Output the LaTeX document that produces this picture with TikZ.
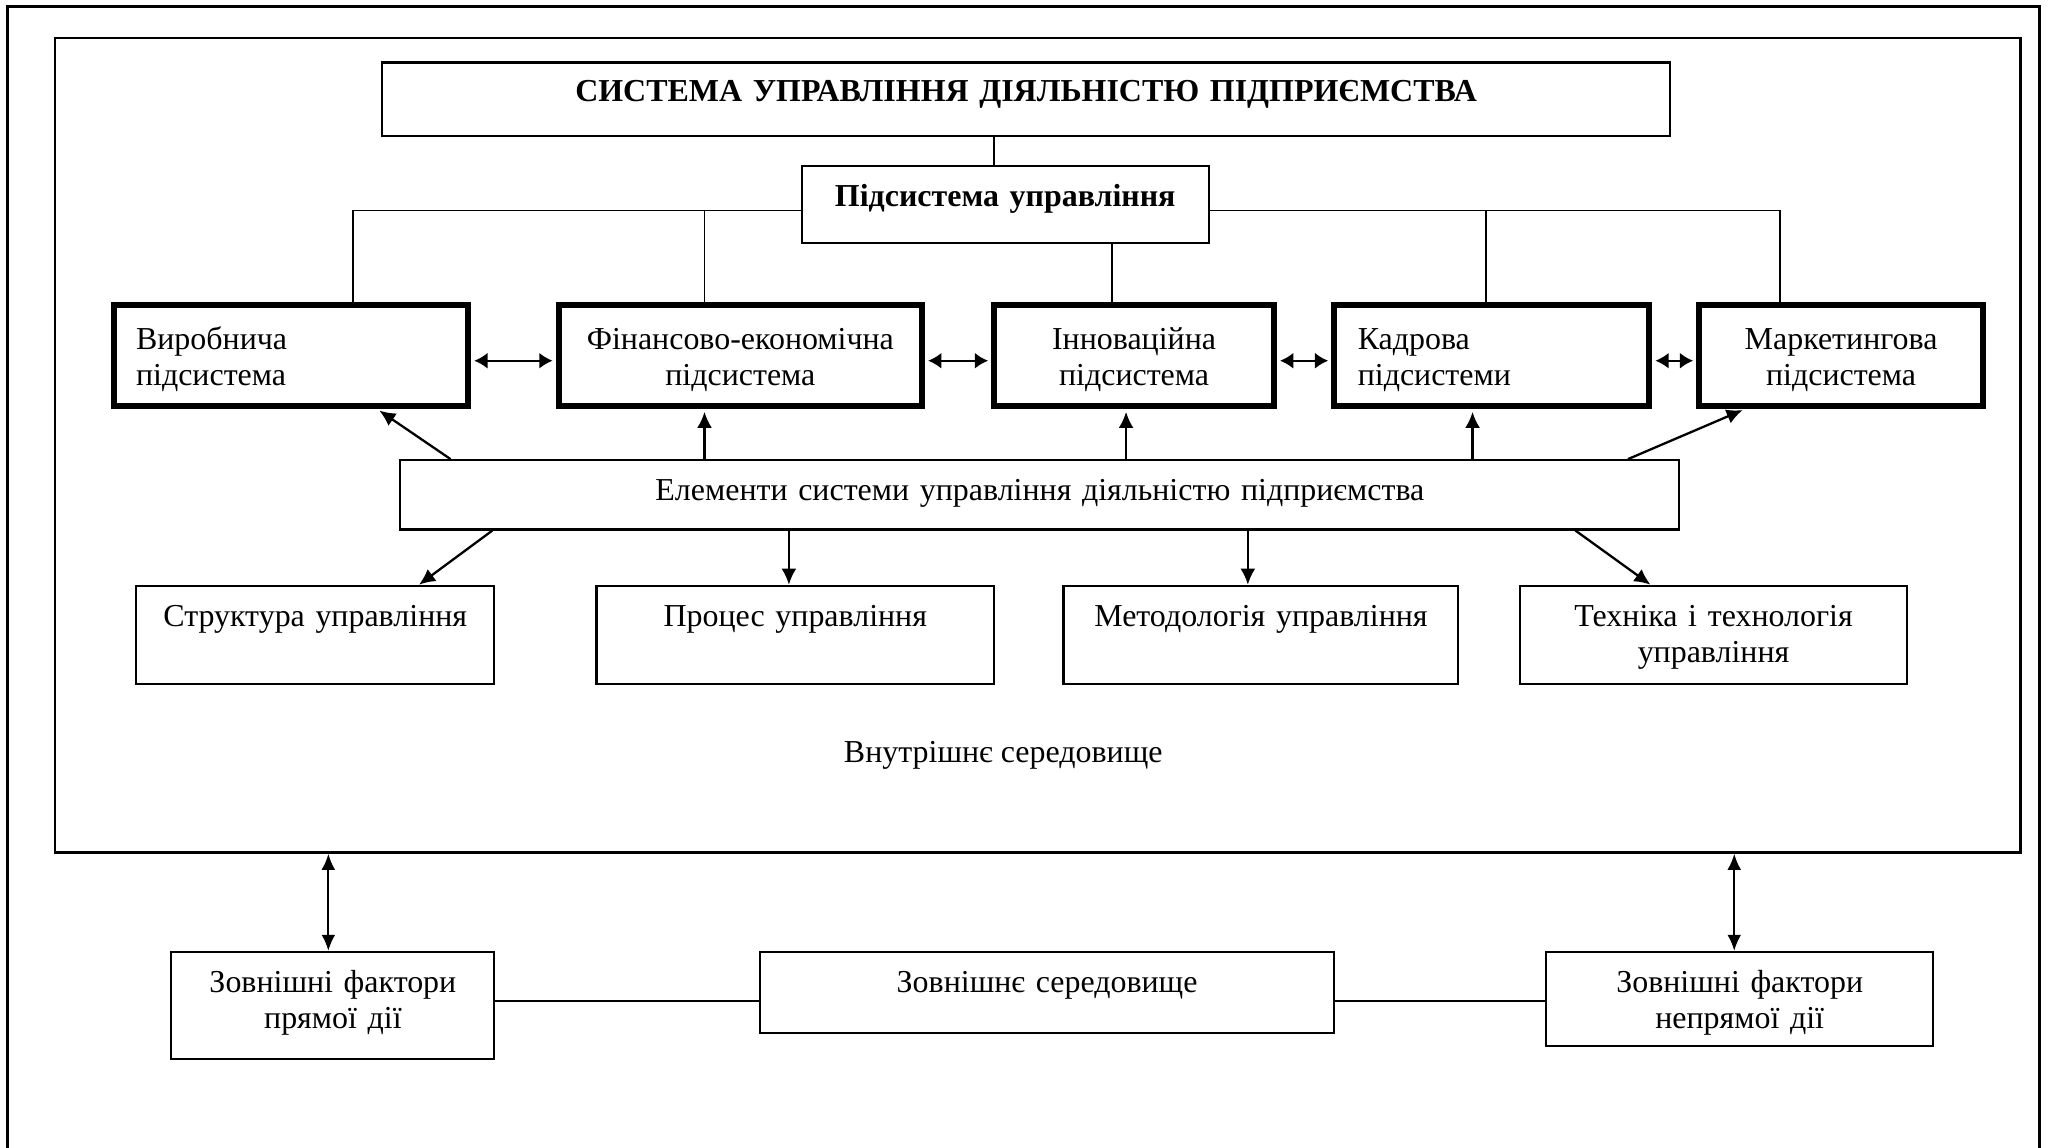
\documentclass[tikz,border=0pt]{standalone}
\usepackage{fontspec}
\setmainfont{Liberation Serif}
\usetikzlibrary{arrows.meta,calc}
\newcommand\fsz{\fontsize{13.9}{15.6}\selectfont}
\begin{document}
\begin{tikzpicture}[x=0.02cm,y=-0.02cm,
  box/.style={draw, line width=0.9pt, inner xsep=0pt, inner ysep=0pt, anchor=north, align=center, font=\fsz},
  sub/.style={box, line width=2.6pt, text height=0.68cm, text depth=0.86cm},
  row/.style={box, text height=0.62cm, text depth=0.88cm},
  conn/.style={line width=0.8pt},
  arr/.style={line width=1pt, -{Latex[length=7pt,width=6.5pt]}},
  darr/.style={line width=1pt, {Latex[length=5.8pt,width=7pt]}-{Latex[length=5.8pt,width=7pt]}, shorten <=1.3pt, shorten >=1.3pt},
  darrb/.style={line width=1pt, {Latex[length=7pt,width=6pt]}-{Latex[length=7pt,width=6pt]}}
]
\useasboundingbox (0,0) rectangle (1568,877);
% frames
\draw[line width=1.2pt] (6,890) -- (6,5) -- (1559,5) -- (1559,890);
\node[draw, line width=1pt, inner sep=0pt, minimum width=30.06cm, minimum height=12.46cm, anchor=north west] (env) at (41,28) {};

% boxes
\node[box, font=\fsz\bfseries, text width=19.70cm, text height=0.60cm, text depth=0.52cm] (title) at (784.5,47) {СИСТЕМА УПРАВЛІННЯ ДІЯЛЬНІСТЮ ПІДПРИЄМСТВА};
\node[box, font=\fsz\bfseries, text width=6.22cm, text height=0.62cm, text depth=0.56cm] (pid) at (768.5,126) {Підсистема управління};

\node[sub, align=left, inner xsep=0.34cm, text width=4.74cm] (vyr) at (222.5,231) {Виробнича\\підсистема};
\node[sub, text width=5.56cm] (fin) at (566,231) {Фінансово-економічна\\підсистема};
\node[sub, text width=4.28cm] (inn) at (867,231) {Інноваційна\\підсистема};
\node[sub, align=left, inner xsep=0.36cm, text width=4.10cm] (kad) at (1140.5,231) {Кадрова\\підсистеми};
\node[sub, text width=4.34cm] (mar) at (1407.5,231) {Маркетингова\\підсистема};

\node[box, text width=19.56cm, text height=0.62cm, text depth=0.44cm] (el) at (795,351) {Елементи системи управління діяльністю підприємства};

\node[row, text width=5.48cm] (str) at (241,447) {Структура управління};
\node[row, text width=6.08cm] (pro) at (608,447) {Процес управління};
\node[row, text width=6.04cm] (met) at (964,447) {Методологія управління};
\node[row, text width=5.92cm] (tek) at (1310,447) {Техніка і технологія\\управління};

\node[font=\fsz, anchor=base, inner sep=0pt] (vs) at (767,583) {Внутрішнє середовище};

\node[box, text width=4.94cm, text height=0.62cm, text depth=1.02cm] (zpr) at (254.5,727) {Зовнішні фактори\\прямої дії};
\node[box, text width=8.78cm, text height=0.62cm, text depth=0.62cm] (zs) at (800.5,727) {Зовнішнє середовище};
\node[box, text width=5.92cm, text height=0.62cm, text depth=0.82cm] (znp) at (1330,727) {Зовнішні фактори\\непрямої дії};

% tree connectors
\coordinate (t1) at ($(pid.north west)!0.473!(pid.north east)$);
\draw[conn] (t1) -- (t1 |- title.south);
\coordinate (hl) at ($(pid.north west)!0.576!(pid.south west)$);
\coordinate (hr) at ($(pid.north east)!0.576!(pid.south east)$);
\draw[conn] (hl) -| ($(vyr.north west)!0.672!(vyr.north east)$);
\coordinate (fT) at ($(fin.north west)!0.403!(fin.north east)$);
\draw[conn] (fT |- hl) -- (fT);
\draw[conn] (hr) -| ($(mar.north west)!0.29!(mar.north east)$);
\coordinate (kT) at ($(kad.north west)!0.481!(kad.north east)$);
\draw[conn] (kT |- hr) -- (kT);
\coordinate (iT) at ($(inn.north west)!0.423!(inn.north east)$);
\draw[conn] (iT |- pid.south) -- (iT);

% links between subsystems
\draw[darr] ([yshift=-0.08cm]vyr.east) -- ([yshift=-0.08cm]fin.west);
\draw[darr] ([yshift=-0.08cm]fin.east) -- ([yshift=-0.08cm]inn.west);
\draw[darr] ([yshift=-0.08cm]inn.east) -- ([yshift=-0.08cm]kad.west);
\draw[darr] ([yshift=-0.08cm]kad.east) -- ([yshift=-0.08cm]mar.west);

% elements up
\draw[arr, shorten >=1.3pt] ($(el.north west)!0.04!(el.north east)$) -- ($(vyr.south west)!0.738!(vyr.south east)$);
\coordinate (fB) at ($(fin.south west)!0.403!(fin.south east)$);
\draw[arr, shorten >=1.3pt] (fB |- el.north) -- (fB);
\coordinate (iB) at ($(inn.south west)!0.472!(inn.south east)$);
\draw[arr, shorten >=1.3pt] (iB |- el.north) -- (iB);
\coordinate (kB) at ($(kad.south west)!0.44!(kad.south east)$);
\draw[arr, shorten >=1.3pt] (kB |- el.north) -- (kB);
\draw[arr, shorten >=1.3pt] ($(el.north west)!0.959!(el.north east)$) -- ($(mar.south west)!0.17!(mar.south east)$);

% elements down
\draw[arr] ($(el.south west)!0.0726!(el.south east)$) -- ($(str.north west)!0.788!(str.north east)$);
\coordinate (pT) at ($(pro.north west)!0.484!(pro.north east)$);
\draw[arr] (pT |- el.south) -- (pT);
\coordinate (mT) at ($(met.north west)!0.467!(met.north east)$);
\draw[arr] (mT |- el.south) -- (mT);
\draw[arr] ($(el.south west)!0.918!(el.south east)$) -- ($(tek.north west)!0.338!(tek.north east)$);

% environment links
\coordinate (a1) at ($(zpr.north west)!0.486!(zpr.north east)$);
\draw[darrb] (a1 |- env.south) -- (a1);
\coordinate (a2) at ($(znp.north west)!0.486!(znp.north east)$);
\draw[darrb] (a2 |- env.south) -- (a2);
\coordinate (ly) at (0,765);
\draw[conn] (zpr.east |- ly) -- (zs.west |- ly);
\draw[conn] (zs.east |- ly) -- (znp.west |- ly);
\end{tikzpicture}
\end{document}
